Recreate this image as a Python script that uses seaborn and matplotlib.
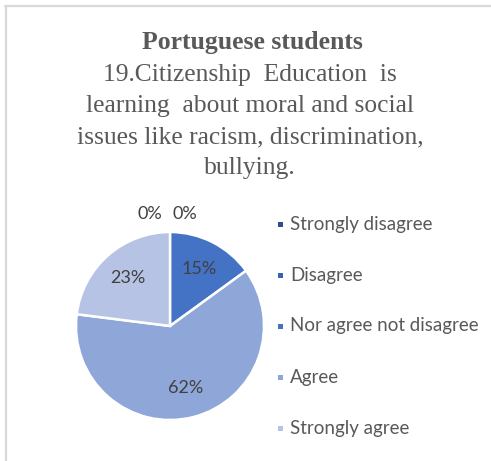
import matplotlib
matplotlib.use("Agg")
import matplotlib.pyplot as plt
from matplotlib.lines import Line2D
from matplotlib.patches import Rectangle
import seaborn as sns
import numpy as np

categories = ["Strongly disagree", "Disagree", "Nor agree not disagree", "Agree", "Strongly agree"]
shares = [0, 0, 15, 62, 23]
slice_colors = ["#2E4F8F", "#3962B0", "#4472C4", "#8FA6D8", "#B6C3E4"]

title_bold = "Portuguese students"
title_lines = ["19.Citizenship  Education  is",
               "learning  about moral and social",
               "issues like racism, discrimination,",
               "bullying."]

sns.set_theme(style="white")
plt.rcParams["font.family"] = ["Lato", "DejaVu Sans"]

W, H = 491, 461
fig = plt.figure(figsize=(W / 100, H / 100), dpi=100)
fig.patch.set_facecolor("white")

# frame lines (left and top)
fig.add_artist(Line2D([5.5 / W, 5.5 / W], [0, 1 - 6 / H], transform=fig.transFigure,
                      color="#D9D9D9", lw=1.6))
fig.add_artist(Line2D([5 / W, 1], [1 - 6.5 / H, 1 - 6.5 / H], transform=fig.transFigure,
                      color="#D9D9D9", lw=1.6))

# title
serif = ["Liberation Serif", "DejaVu Serif"]
fig.text(252 / W, 1 - 42 / H, title_bold, ha="center", va="center", family=serif,
         fontweight="bold", fontsize=18.5, color="#595959")
for i, line in enumerate(title_lines):
    fig.text(250 / W, 1 - (75 + 31 * i) / H, line, ha="center", va="center", family=serif,
             fontsize=18.4, color="#595959")

# pie
cx, cy, r = 170, 326, 94
ax = fig.add_axes([(cx - r) / W, (H - cy - r) / H, 2 * r / W, 2 * r / H])
wedges, _ = ax.pie(shares, colors=slice_colors, startangle=90, counterclock=False,
                   radius=1, wedgeprops=dict(edgecolor="white", linewidth=1.8))
ax.set_xlim(-1, 1)
ax.set_ylim(-1, 1)
ax.set_aspect("equal")
ax.axis("off")

total = sum(shares)
cum = 0
zero_idx = 0
for val in shares:
    frac = val / total
    if val > 0:
        mid = 2 * np.pi * (cum + frac / 2)
        d = 0.68
        ax.text(d * np.sin(mid), d * np.cos(mid), f"{val}%", ha="center", va="center",
                fontsize=13, color="#404040")
    else:
        # zero-share slices sit at the top edge; spread their labels sideways
        ax.text(-0.21 + 0.37 * zero_idx, 1.19, f"{val}%", ha="center", va="center",
                fontsize=13, color="#404040")
        zero_idx += 1
    cum += frac

# legend
for i, (cat, col) in enumerate(zip(categories, slice_colors)):
    y = 1 - (224 + 51 * i) / H
    fig.add_artist(Rectangle((278 / W, y - 2.5 / H), 5 / W, 5 / H, transform=fig.transFigure,
                             facecolor=col, edgecolor="none"))
    fig.text(290 / W, y, cat, ha="left", va="center", fontsize=13.5, color="#595959")

fig.savefig("out.png", dpi=100, facecolor="white")
